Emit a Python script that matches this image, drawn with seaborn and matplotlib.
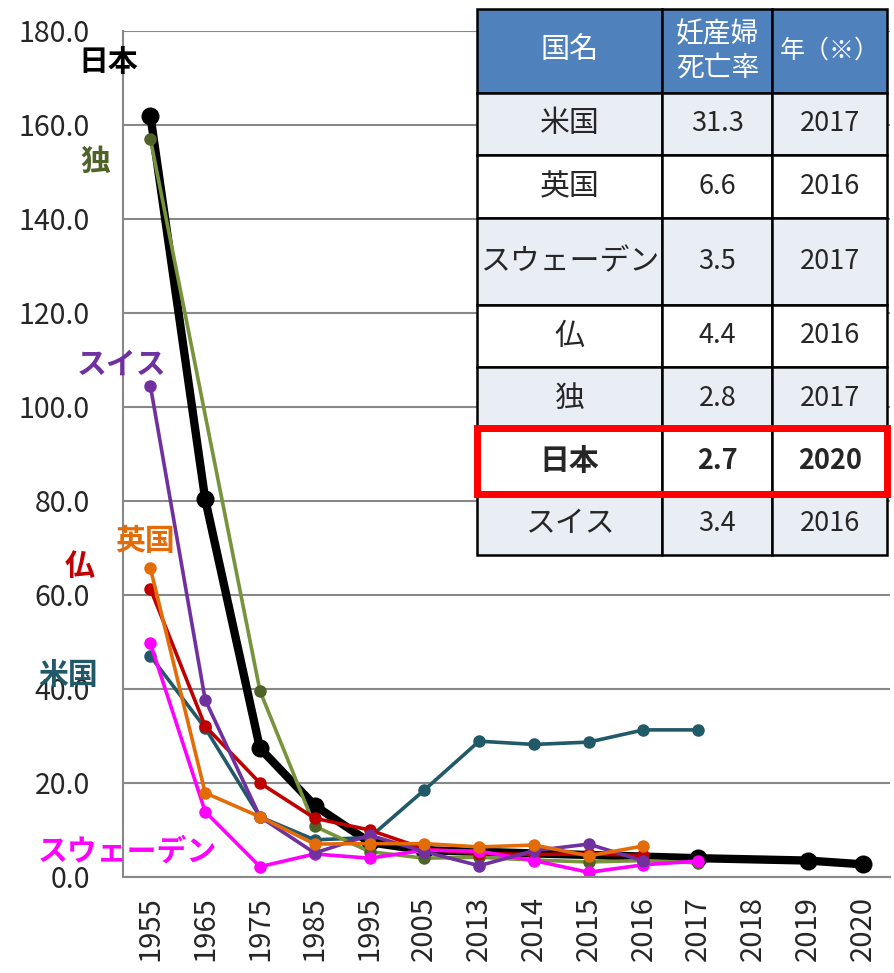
import numpy as np
import pandas as pd
import seaborn as sns
import matplotlib.pyplot as plt
from matplotlib.patches import Rectangle

sns.set_style('white')
plt.rcParams['font.family'] = ['Noto Sans CJK JP', 'DejaVu Sans']

# 年（横軸のカテゴリ）
years = ['1955', '1965', '1975', '1985', '1995', '2005', '2013', '2014',
         '2015', '2016', '2017', '2018', '2019', '2020']

# 妊産婦死亡率（None = データなし）
japan = [162.0, 80.4, 27.4, 15.2, 7.4, 5.7, None, None, None, None, 4.0, None, 3.5, 2.7]
usa = [47.0, 31.7, 12.8, 7.9, 8.4, 18.5, 28.9, 28.2, 28.7, 31.3, 31.3, None, None, None]
germany = [157.0, None, 39.6, 10.8, 5.4, 4.0, 4.2, 3.6, 3.2, 3.5, 3.0, None, None, None]
france = [61.3, 32.1, 20.0, 12.5, 10.0, 6.0, 5.0, 4.8, 4.9, 4.6, None, None, None, None]
sweden = [49.7, 13.9, 2.2, 4.9, 4.0, 5.7, 5.5, 3.5, 1.0, 2.6, 3.4, None, None, None]
swiss = [104.5, 37.7, 12.8, 5.1, 8.9, 5.4, 2.4, 5.6, 7.0, 3.4, None, None, None, None]
uk = [65.7, 17.9, 12.8, 7.0, 7.1, 7.1, 6.4, 6.8, 4.5, 6.6, None, None, None, None]

# 表のデータ
tbl_header = ['国名', '妊産婦\n死亡率', '年（※）']
tbl_names = ['米国', '英国', 'スウェーデン', '仏', '独', '日本', 'スイス']
tbl_rates = ['31.3', '6.6', '3.5', '4.4', '2.8', '2.7', '3.4']
tbl_years = ['2017', '2016', '2017', '2016', '2017', '2020', '2016']

# 系列ごとの設定: (名前, 値, 線の色, マーカー色, 線幅, マーカーサイズ)
series = [
    ('日本', japan, 'black', 'black', 6.0, 13),
    ('米国', usa, '#215968', '#215968', 2.6, 9),
    ('独', germany, '#77933C', '#4F6228', 2.6, 9),
    ('仏', france, '#C00000', '#C00000', 2.6, 9),
    ('スウェーデン', sweden, '#FF00FF', '#FF00FF', 2.6, 9),
    ('スイス', swiss, '#7030A0', '#7030A0', 2.6, 9),
    ('英国', uk, '#E36C09', '#E36C09', 2.6, 9),
]

fig = plt.figure(figsize=(8.95, 9.73), dpi=100)
ax = fig.add_axes([123 / 895, 1 - 877 / 973, (890 - 123) / 895, (877 - 31) / 973])

for name, vals, col, mcol, lw, ms in series:
    df = pd.DataFrame({'pos': np.arange(len(years)), 'value': vals}).dropna()
    sns.lineplot(data=df, x='pos', y='value', ax=ax, color=col, linewidth=lw,
                 marker='o', markersize=ms, markerfacecolor=mcol,
                 markeredgecolor=mcol, markeredgewidth=0)

grid_col = '#888888'
ax.set_xlim(-0.5, len(years) - 0.5)
ax.set_ylim(0, 180)
ax.set_yticks(np.arange(0, 181, 20))
ax.set_yticklabels([f'{v:.1f}' for v in np.arange(0, 181, 20)], fontsize=20.5)
ax.set_xticks(np.arange(len(years)))
ax.set_xticklabels(years, rotation=90, fontsize=21)
ax.set_xticks(np.arange(-0.5, len(years), 1), minor=True)
ax.tick_params(axis='x', which='major', length=0, pad=14)
ax.tick_params(axis='x', which='minor', length=6, width=1.5, color=grid_col)
ax.tick_params(axis='y', length=7, width=1.5, color=grid_col, pad=17)
ax.yaxis.grid(True, color=grid_col, linewidth=1.5)
ax.set_axisbelow(True)
ax.set_xlabel('')
ax.set_ylabel('')
for s in ['top', 'right']:
    ax.spines[s].set_visible(False)
for s in ['left', 'bottom']:
    ax.spines[s].set_color(grid_col)
    ax.spines[s].set_linewidth(1.5)

# 国名ラベル
labels = [
    ('日本', -0.77, 173.4, 'black'),
    ('独', -1.0, 152.1, '#4F6228'),
    ('スイス', -0.53, 108.9, '#7030A0'),
    ('英国', -0.09, 71.5, '#E36C09'),
    ('仏', -1.30, 66.2, '#C00000'),
    ('米国', -1.50, 43.0, '#215968'),
    ('スウェーデン', -0.42, 5.3, '#FF00FF'),
]
for txt, x, y, col in labels:
    ax.text(x, y, txt, color=col, fontsize=21.5, fontweight='bold',
            ha='center', va='center', clip_on=False)

# 表
tab_ax = fig.add_axes([477 / 895, 1 - 555 / 973, (887 - 477) / 895, (555 - 9.3) / 973])
tab_ax.axis('off')
cells = [tbl_header] + [list(r) for r in zip(tbl_names, tbl_rates, tbl_years)]
col_w = [185.4, 110.0, 114.6]
row_h = [83.4, 62.3, 63.3, 86.7, 62.3, 63.0, 62.0, 63.0]
table = tab_ax.table(cellText=cells, cellLoc='center', bbox=[0, 0, 1, 1])
table.auto_set_font_size(False)
for (r, c), cell in table.get_celld().items():
    cell.set_width(col_w[c])
    cell.set_height(row_h[r])
    cell.set_edgecolor('black')
    cell.set_linewidth(1.8)
    t = cell.get_text()
    if r == 0:
        cell.set_facecolor('#4F81BD')
        t.set_color('white')
        t.set_linespacing(1.15)
        t.set_fontsize([21, 20, 18][c])
    else:
        cell.set_facecolor('#E9EDF4' if r % 2 == 1 else 'white')
        t.set_fontsize(21.5 if c == 0 else 19.5)
    if r > 0 and tbl_names[r - 1] == '日本':
        t.set_fontweight('bold')

# 日本の行を赤枠で囲む
jp = tbl_names.index('日本') + 1
total_h = sum(row_h)
y_top = 1 - sum(row_h[:jp]) / total_h
y_bot = 1 - sum(row_h[:jp + 1]) / total_h
tab_ax.add_patch(Rectangle((0.0, y_bot - 0.003), 1.0, y_top - y_bot + 0.006,
                           transform=tab_ax.transAxes, fill=False,
                           edgecolor='#FF0000', linewidth=5, clip_on=False, zorder=5))

fig.savefig('out.png', dpi=100)
